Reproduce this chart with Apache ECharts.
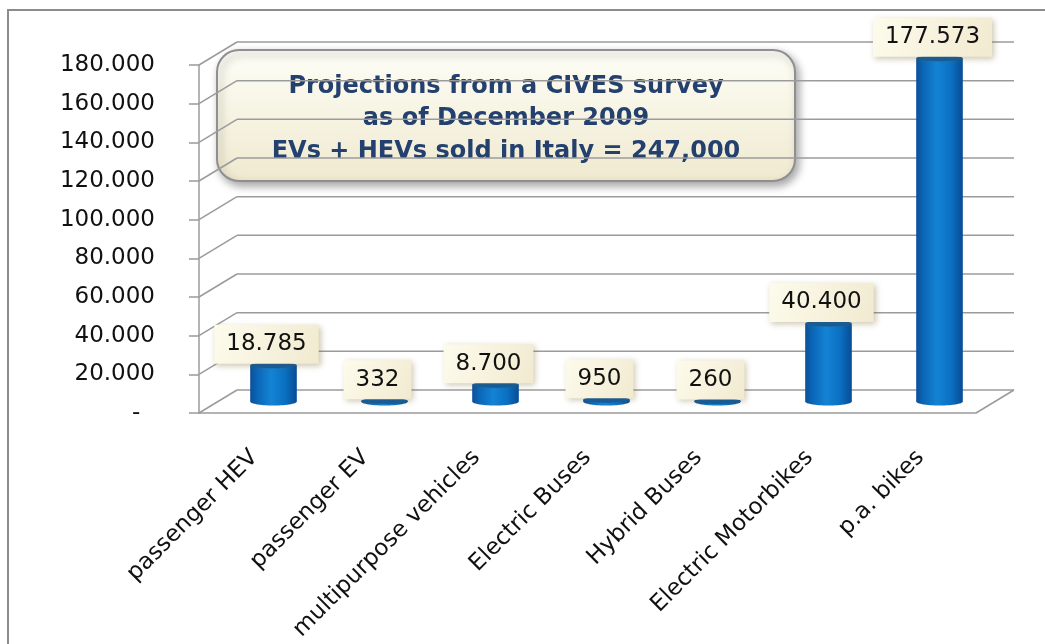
<!DOCTYPE html>
<html><head><meta charset="utf-8">
<script src="https://cdn.jsdelivr.net/npm/echarts@6/dist/echarts.min.js"></script>
<style>html,body{margin:0;padding:0;background:#fff}#c{width:1045px;height:644px}</style>
</head><body><div id="c"></div>
<script>
const categories = ['passenger HEV', 'passenger EV', 'multipurpose vehicles', 'Electric Buses', 'Hybrid Buses', 'Electric Motorbikes', 'p.a. bikes'];
const values = [18785, 332, 8700, 950, 260, 40400, 177573];
const yTicks = [0, 20000, 40000, 60000, 80000, 100000, 120000, 140000, 160000, 180000];
const noteLines = ['Projections from a CIVES survey', 'as of December 2009', 'EVs + HEVs sold in Italy = 247,000'];

const DX = 38, DY = -23;
const FONT = 'DejaVu Sans';
const GRID_COLOR = '#9b9b9b';
function fmt(v) { return String(v).replace(/\B(?=(\d{3})+(?!\d))/g, '.'); }

function arcPts(cx, cy, rx, ry, a0, a1, n) {
  const pts = [];
  for (let k = 0; k <= n; k++) {
    const t = a0 + (a1 - a0) * k / n;
    pts.push([cx + rx * Math.cos(t), cy + ry * Math.sin(t)]);
  }
  return pts;
}

function renderBar(params, api) {
  const i = api.value(0), v = api.value(1);
  const base = api.coord([i, 0]);
  const top = api.coord([i, v]);
  const band = api.size([1, 0])[0];
  const w = band * 0.42, rx = w / 2, ry = 4;
  const cx = base[0] + DX / 2, by = base[1] + DY / 2, ty = top[1] + DY / 2;
  const bodyPts = [[cx - rx, ty], [cx - rx, by]].concat(arcPts(cx, by, rx, ry, Math.PI, 0, 30)).concat([[cx + rx, ty]]);
  const grad = { type: 'linear', x: 0, y: 0, x2: 1, y2: 0, colorStops: [
    { offset: 0, color: '#0a4f9a' }, { offset: 0.15, color: '#0a66b6' },
    { offset: 0.45, color: '#1483d4' }, { offset: 0.75, color: '#0a70c2' }, { offset: 1, color: '#074c94' }] };
  return {
    type: 'group',
    children: [
      { type: 'polygon', shape: { points: bodyPts }, style: { fill: grad } },
      { type: 'polygon', shape: { points: arcPts(cx, ty, rx, ry - 1, 0, Math.PI * 2, 40) }, style: { fill: '#0b5ba8' } },
      { type: 'text', x: cx - 7, y: ty - 21, z2: 20, style: {
        text: fmt(v), font: '23px "' + FONT + '"', fill: '#111', align: 'center', verticalAlign: 'middle',
        backgroundColor: { type: 'linear', x: 0, y: 0, x2: 1, y2: 1, colorStops: [{ offset: 0, color: '#fdfbec' }, { offset: 1, color: '#f1ead0' }] },
        padding: [8, 12],
        shadowBlur: 6, shadowColor: 'rgba(110,90,30,0.35)', shadowOffsetX: 2, shadowOffsetY: 2 } }
    ]
  };
}

function renderGrid(params, api) {
  const v = api.value(1);
  const cs = params.coordSys;
  const y = api.coord([0, v])[1];
  const L = cs.x, R = cs.x + cs.width;
  const st = { stroke: GRID_COLOR, lineWidth: 1.5 };
  const ch = [
    { type: 'line', shape: { x1: L + DX, y1: y + DY, x2: R + DX, y2: y + DY }, style: st },
    { type: 'line', shape: { x1: L, y1: y, x2: L + DX, y2: y + DY }, style: st }
  ];
  if (v === 0) ch.push({ type: 'line', shape: { x1: R, y1: y, x2: R + DX, y2: y + DY }, style: st });
  return { type: 'group', children: ch };
}

const chart = echarts.init(document.getElementById('c'));
chart.setOption({
  backgroundColor: '#fff',
  animation: false,
  grid: { left: 199, right: 69, top: 65, bottom: 231 },
  xAxis: {
    type: 'category', data: categories,
    axisLine: { lineStyle: { color: GRID_COLOR, width: 1.5 } },
    axisTick: { length: 10, lineStyle: { color: GRID_COLOR, width: 1.5 } },
    axisLabel: { rotate: 45, fontFamily: FONT, fontSize: 23, color: '#111', margin: 41, interval: 0 }
  },
  yAxis: {
    type: 'value', min: 0, max: 180000, interval: 20000,
    axisLine: { show: true, lineStyle: { color: GRID_COLOR, width: 1.5 } },
    axisTick: { show: true, length: 10, lineStyle: { color: GRID_COLOR, width: 1.5 } },
    splitLine: { show: false },
    axisLabel: { fontFamily: FONT, fontSize: 23, color: '#111', margin: 44,
      formatter: v => v === 0 ? '-  ' : fmt(v) }
  },
  graphic: [
    { type: 'rect', z: -10, shape: { x: 8, y: 10, width: 1200, height: 800 }, style: { fill: 'none', stroke: '#8c8c8c', lineWidth: 2 } },
    { type: 'group', z: 50, children: [
      { type: 'rect', shape: { x: 217, y: 50, width: 578, height: 131, r: 22 },
        style: { fill: { type: 'linear', x: 0, y: 0, x2: 0, y2: 1, colorStops: [{ offset: 0, color: '#fefef7' }, { offset: 1, color: '#efe9cf' }] },
          stroke: '#8f8f8f', lineWidth: 2, shadowBlur: 8, shadowOffsetX: 3, shadowOffsetY: 4, shadowColor: 'rgba(0,0,0,0.35)' } },
      { type: 'text', style: { x: 506, y: 87, text: noteLines[0], font: 'bold 24px "' + FONT + '"', fill: '#23406e', align: 'center', verticalAlign: 'middle' } },
      { type: 'text', style: { x: 506, y: 119, text: noteLines[1], font: 'bold 24px "' + FONT + '"', fill: '#23406e', align: 'center', verticalAlign: 'middle' } },
      { type: 'text', style: { x: 506, y: 152, text: noteLines[2], font: 'bold 24px "' + FONT + '"', fill: '#23406e', align: 'center', verticalAlign: 'middle' } }
    ] }
  ],
  series: [
    { type: 'custom', renderItem: renderGrid, data: yTicks.map(v => [0, v]), z: 1, silent: true },
    { type: 'custom', renderItem: renderBar, data: values.map((v, i) => [i, v]), z: 5 }
  ]
});
</script></body></html>
